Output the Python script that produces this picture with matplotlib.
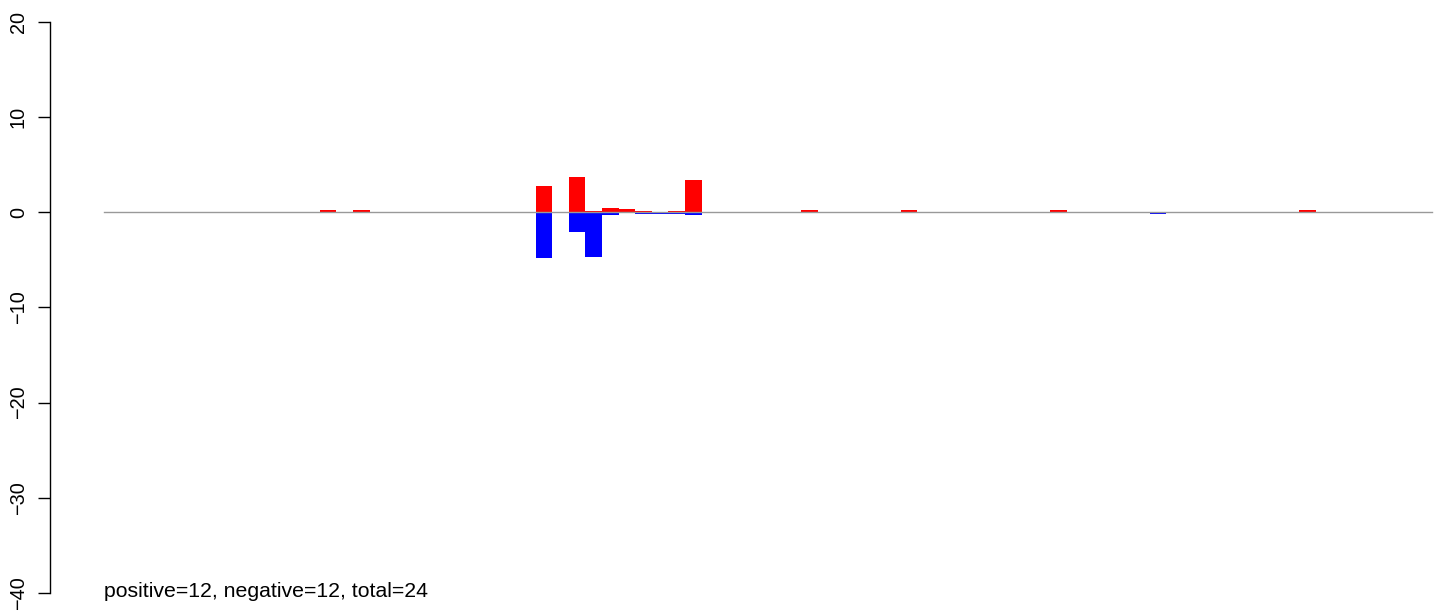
import numpy as np
import matplotlib
matplotlib.use("Agg")
import matplotlib.pyplot as plt

plt.rcParams['font.family'] = ['Liberation Sans', 'DejaVu Sans']

# 80 bars side by side (R barplot style, space=0); only a few are non-zero
n_bars = 80
pos_idx = [13, 15, 26, 28, 29, 30, 31, 32, 34, 35, 42, 48, 57, 72]
pos_val = [0.2, 0.2, 2.8, 3.76, 0.15, 0.5, 0.4, 0.15, 0.15, 3.44, 0.2, 0.2, 0.2, 0.2]
neg_idx = [26, 28, 29, 30, 32, 33, 34, 35, 63]
neg_val = [-4.84, -2.1, -4.7, -0.25, -0.2, -0.2, -0.2, -0.25, -0.22]
yticks = [20, 10, 0, -10, -20, -30, -40]
note = "positive=12, negative=12, total=24"

pos = np.zeros(n_bars)
neg = np.zeros(n_bars)
pos[pos_idx] = pos_val
neg[neg_idx] = neg_val
x = np.arange(n_bars)

fig = plt.figure(figsize=(14.44, 6.13), dpi=100)
ax = fig.add_axes([50 / 1444, 0, 1 - 50 / 1444, 1])

ax.bar(x, pos, width=1.0, align='edge', color='#FF0000', linewidth=0)
ax.bar(x, neg, width=1.0, align='edge', color='#0000FF', linewidth=0)
ax.plot([0, n_bars], [0, 0], color='#999999', linewidth=1.0)

ax.text(0, -39.8, note, ha='left', va='center', fontsize=15.3)

ppu = (1444 - 104) / (1432 - 104) * n_bars
ax.set_xlim(-54 / 16.6, ppu)
ax.set_ylim(-40 - 20 / 9.517, 20 + 22 / 9.517)

for s in ['top', 'right', 'bottom']:
    ax.spines[s].set_visible(False)
ax.spines['left'].set_bounds(-40, 20)
ax.spines['left'].set_linewidth(1.0)
ax.set_xticks([])
ax.set_yticks(yticks)
ax.set_yticklabels([str(t).replace('-', '\u2212') for t in yticks],
                   rotation=90, va='center', fontsize=14.3)
ax.tick_params(axis='y', length=8.5, width=1.0, pad=7.5)

fig.savefig("out.png", dpi=100)
